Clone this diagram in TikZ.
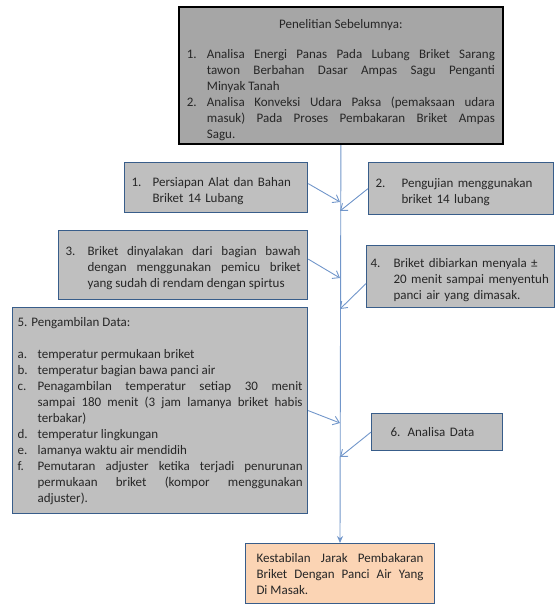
\documentclass[tikz,border=0pt]{standalone}
\usepackage{fontspec}
\setmainfont{Carlito}
\usetikzlibrary{positioning, arrows.meta}
\definecolor{abuacuan}{HTML}{A6A6A6}
\definecolor{abukotak}{HTML}{BFBFBF}
\definecolor{garisbiru}{HTML}{385D8A}
\definecolor{birupanah}{HTML}{7196CA}
\definecolor{persik}{HTML}{FBD4B4}
\definecolor{teks}{HTML}{262626}
% nomor butir dengan indentasi gantung
\newcommand{\butirgaya}{\relax}
\newcommand{\butir}[3][20pt]{\par\noindent\makebox[#1][l]{#2}%
    \parbox[t]{\dimexpr\hsize-#1\relax}{\butirgaya #3\par\xdef\butirdalam{\the\prevdepth}}%
    \par\prevdepth=\butirdalam\relax}
\tikzset{
    kotak/.style={ % kotak langkah penelitian
        draw=garisbiru, fill=abukotak, line width=1.2pt,
        anchor=north west, inner xsep=7pt, inner ysep=3pt,
        font=\fontsize{13}{16}\selectfont, text=teks
    },
    kotakrata/.style={kotak, align=justify},
    kotakkiri/.style={kotak, align=left, execute at begin node={\let\butirgaya\raggedright}},
    acuan/.style={kotakrata, draw=black, fill=abuacuan, line width=1.8pt, inner xsep=8pt},
    hasil/.style={kotakrata, fill=persik, anchor=north, inner xsep=11pt},
    tulang/.style={draw=birupanah, line width=0.9pt, -{Stealth[length=7pt,width=6pt]}},
    panah/.style={draw=birupanah, line width=0.9pt, -{Straight Barb[length=6pt,width=9pt]}}
}

\begin{document}
\begin{tikzpicture}[x=1pt,y=-1pt]
    \useasboundingbox (0,0) rectangle (556,605);
    \node[acuan, text width=308pt, minimum height=137pt] (acuan) at (178,6) {%
        \noindent\rule{0pt}{19pt}\makebox[\hsize]{Penelitian Sebelumnya:}\par\vspace{14pt}
        \butir{1.}{Analisa Energi Panas Pada Lubang Briket Sarang tawon Berbahan Dasar Ampas Sagu Penganti\linebreak Minyak Tanah}
        \butir{2.}{Analisa Konveksi Udara Paksa (pemaksaan udara\linebreak masuk) Pada Proses Pembakaran Briket Ampas\linebreak Sagu.}};
    \node[kotakkiri, text width=169pt, minimum height=50pt] (b1) at (124,162)
        {\butir[21pt]{1.}{Persiapan Alat dan Bahan\\Briket 14 Lubang}};
    \node[kotakkiri, text width=171pt, minimum height=52pt] (b2) at (368,162)
        {\butir[26pt]{2.}{Pengujian menggunakan\\briket 14 lubang}};
    \node[kotakrata, text width=235pt, minimum height=69pt] (b3) at (58,230)
        {\butir[22pt]{3.}{Briket dinyalakan dari bagian bawah\linebreak dengan menggunakan pemicu briket\linebreak yang sudah di rendam dengan spirtus}};
    \node[kotakkiri, text width=180pt, inner xsep=4pt, minimum height=62pt] (b4) at (366,245)
        {\butir[23pt]{4.}{Briket dibiarkan menyala ±\\20~menit~sampai~menyentuh\\panci air yang dimasak.}};
    \node[kotakrata, text width=285pt, inner xsep=5pt, minimum height=206pt] (b5) at (12,307) {%
        \noindent 5. Pengambilan Data:\par\vspace{16pt}
        \butir{a.}{temperatur permukaan briket}
        \butir{b.}{temperatur bagian bawa panci air}
        \butir{c.}{Penagambilan temperatur setiap 30 menit\linebreak sampai 180 menit (3 jam lamanya briket habis\linebreak terbakar)}
        \butir{d.}{temperatur lingkungan}
        \butir{e.}{lamanya waktu air mendidih}
        \butir{f.}{Pemutaran adjuster ketika terjadi penurunan\linebreak permukaan briket (kompor menggunakan\linebreak adjuster).}};
    \node[kotakkiri, text width=117pt, minimum height=37pt] (b6) at (371,413)
        {\hspace*{12pt}\makebox[17pt][l]{6.}Analisa Data};
    \node[hasil, text width=167pt, minimum height=60pt] (hasil) at (340,543)
        {Kestabilan Jarak Pembakaran\linebreak Briket Dengan Panci Air Yang\linebreak Di Masak.};
    % titik temu pada garis utama
    \foreach \n/\y in {1/202, 2/211, 3/278, 4/309, 5/423, 6/457}
        \coordinate (s\n) at (340,\y);
    \draw[tulang] (acuan.south) -- (hasil.north);
    \draw[panah] ([yshift=4pt]b1.east) -- (s1);
    \draw[panah] (b2.west) -- (s2);
    \draw[panah] ([yshift=6pt]b3.east) -- (s3);
    \draw[panah] ([yshift=-7pt]b4.west) -- (s4);
    \draw[panah] (b5.east) -- (s5);
    \draw[panah] (b6.west) -- (s6);
\end{tikzpicture}
\end{document}
